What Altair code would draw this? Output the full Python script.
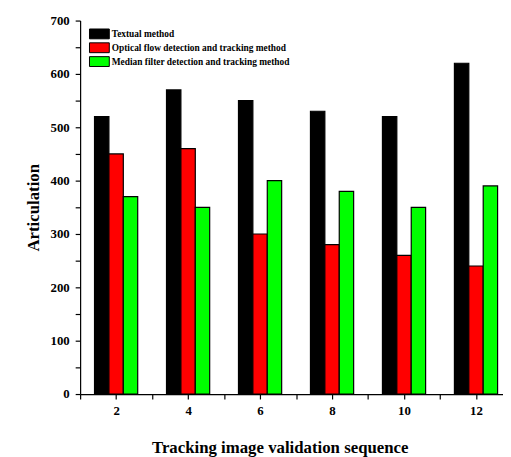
import altair as alt
import pandas as pd

# ---- data ----
sequence = [2, 4, 6, 8, 10, 12]
textual = [520, 570, 550, 530, 520, 620]
optical = [450, 460, 300, 280, 260, 240]
median = [370, 350, 400, 380, 350, 390]
methods = [
    "Textual method",
    "Optical flow detection and tracking method",
    "Median filter detection and tracking method",
]
x_ticks = list(range(1, 13))
y_ticks = list(range(0, 701, 50))

# ---- style ----
colors = ["#000000", "#ff0000", "#00ff00"]
FONT = "Liberation Serif"
BAR_W = 0.4

rows = []
for i, s in enumerate(sequence):
    for k, vals in enumerate([textual, optical, median]):
        rows.append({"seq": s, "method": methods[k], "order": k, "value": vals[i]})
df = pd.DataFrame(rows)

chart = (
    alt.Chart(df)
    .transform_calculate(
        x0=f"datum.seq + (datum.order - 1) * {BAR_W} - {BAR_W / 2}",
        x1=f"datum.seq + (datum.order - 1) * {BAR_W} + {BAR_W / 2}",
    )
    .mark_bar(stroke="black", strokeWidth=1.2, clip=True, opacity=1)
    .encode(
        x=alt.X(
            "x0:Q",
            scale=alt.Scale(domain=[1, 12.75], nice=False, zero=False),
            axis=alt.Axis(
                values=x_ticks,
                labelExpr="datum.value % 2 == 0 ? datum.label : ''",
                title="Tracking image validation sequence",
                grid=False,
                domainColor="black",
                domainWidth=1.2,
                tickColor="black",
                tickWidth=1.2,
                tickSize=5,
                labelFont=FONT,
                labelFontSize=13,
                labelFontWeight="bold",
                labelColor="black",
                labelPadding=6,
                labelFlush=False,
                labelOverlap=False,
                titleFont=FONT,
                titleFontSize=17,
                titleFontWeight="bold",
                titleColor="black",
                titlePadding=22,
                titleX=202,
            ),
        ),
        x2="x1:Q",
        y=alt.Y(
            "value:Q",
            scale=alt.Scale(domain=[0, 700], nice=False),
            axis=alt.Axis(
                values=y_ticks,
                labelExpr="datum.value % 100 == 0 ? datum.label : ''",
                title="Articulation",
                grid=False,
                domainColor="black",
                domainWidth=1.2,
                tickColor="black",
                tickWidth=1.2,
                tickSize=5,
                labelFont=FONT,
                labelFontSize=13,
                labelFontWeight="bold",
                labelColor="black",
                labelPadding=6,
                labelOverlap=False,
                titleFont=FONT,
                titleFontSize=17,
                titleFontWeight="bold",
                titleColor="black",
                titlePadding=8,
            ),
        ),
        y2=alt.datum(0),
        color=alt.Color(
            "method:N",
            sort=methods,
            scale=alt.Scale(domain=methods, range=colors),
            legend=alt.Legend(
                orient="none",
                legendX=13,
                legendY=7,
                title=None,
                labelFont=FONT,
                labelFontSize=9.5,
                labelFontWeight="bold",
                labelColor="black",
                labelLimit=400,
                labelOffset=6,
                symbolType="M-1.67,-0.83H1.67V0.83H-1.67Z",
                symbolSize=144,
                symbolStrokeColor="black",
                symbolStrokeWidth=1,
                symbolOpacity=1,
                rowPadding=-5,
            ),
        ),
    )
    .properties(
        width=428,
        height=378,
        padding={"left": 73, "top": 10, "right": 0, "bottom": 61},
        autosize="none",
        background="white",
    )
    .configure_view(stroke=None)
)

chart.save("out.html", embed_options={"renderer": "svg", "actions": False})
